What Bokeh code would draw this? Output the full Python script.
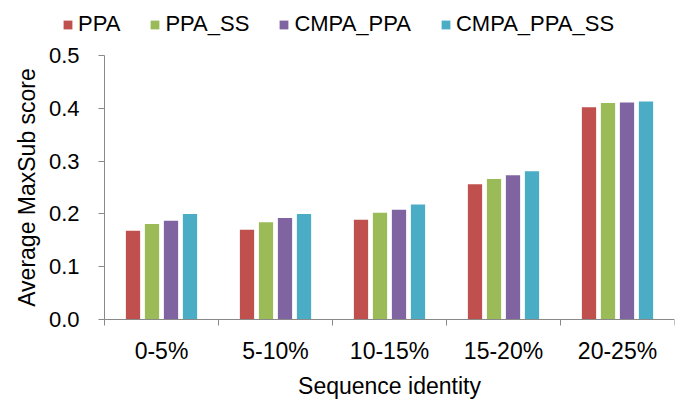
from bokeh.plotting import figure
from bokeh.models import (ColumnDataSource, FixedTicker, Legend, LegendItem,
                          Range1d, NumeralTickFormatter, Label)
from bokeh.transform import dodge
from bokeh.embed import file_html
from bokeh.resources import INLINE

categories = ["0-5%", "5-10%", "10-15%", "15-20%", "20-25%"]
series_names = ["PPA", "PPA_SS", "CMPA_PPA", "CMPA_PPA_SS"]
ppa = [0.168, 0.170, 0.189, 0.256, 0.402]
ppa_ss = [0.181, 0.184, 0.202, 0.266, 0.410]
cmpa_ppa = [0.187, 0.192, 0.208, 0.273, 0.411]
cmpa_ppa_ss = [0.200, 0.200, 0.218, 0.281, 0.413]
y_ticks = [0.0, 0.1, 0.2, 0.3, 0.4, 0.5]
colors = ["#C0504D", "#9BBB59", "#8064A2", "#4BACC6"]
x_title = "Sequence identity"
y_title = "Average MaxSub score"

n = len(categories)
centers = [i + 0.5 for i in range(n)]
bounds = [float(i) for i in range(n + 1)]
y_max = y_ticks[-1]

source = ColumnDataSource(dict(x=centers, PPA=ppa, PPA_SS=ppa_ss,
                               CMPA_PPA=cmpa_ppa, CMPA_PPA_SS=cmpa_ppa_ss))

FONT = "Liberation Sans"
AXIS_COLOR = "#898989"

# layout geometry (pixels): plot body spans x 104..674, y 55..319
W, H = 677, 403
PX_PER_CAT = 114.0
PX_PER_UNIT_Y = 528.0
AXIS_X = 104
AXIS_TOP = 55
AXIS_BOTTOM = 319

p = figure(width=W, height=H, output_backend="svg", toolbar_location=None,
           x_range=Range1d(-AXIS_X / PX_PER_CAT, n),
           y_range=Range1d(-(H - AXIS_BOTTOM) / PX_PER_UNIT_Y,
                           y_max + AXIS_TOP / PX_PER_UNIT_Y),
           min_border_left=0, min_border_right=3, min_border_top=0,
           min_border_bottom=0, outline_line_color=None)
p.grid.visible = False

offsets = [-0.25, -0.0833, 0.0833, 0.25]
items = []
for name, off, col in zip(series_names, offsets, colors):
    r = p.vbar(x=dodge("x", off, range=p.x_range), top=name, bottom=0,
               width=0.125, source=source, fill_color=col, line_color=None)
    items.append(LegendItem(label=name, renderers=[r]))

# x axis, drawn at y = 0
xa = p.xaxis[0]
xa.fixed_location = 0
xa.bounds = (0, n)
xa.ticker = FixedTicker(ticks=centers, minor_ticks=bounds)
xa.major_label_overrides = {c: lab for c, lab in zip(centers, categories)}
xa.major_tick_line_color = None
xa.minor_tick_line_color = AXIS_COLOR
xa.minor_tick_out = 6
xa.minor_tick_in = 0
xa.axis_line_color = AXIS_COLOR
xa.major_label_standoff = 12
xa.major_label_text_font = FONT
xa.major_label_text_font_size = "23px"
xa.major_label_text_color = "#000000"

# x axis title, centred under the categories
p.add_layout(Label(x=n / 2, y=0, y_offset=-66, text=x_title,
                   text_align="center", text_baseline="middle",
                   text_font=FONT, text_font_size="23px",
                   text_color="#000000"))

# y axis, drawn at x = 0 (left edge of the first category)
ya = p.yaxis[0]
ya.fixed_location = 0
ya.bounds = (0, y_max)
ya.ticker = FixedTicker(ticks=y_ticks)
ya.formatter = NumeralTickFormatter(format="0.0")
ya.minor_tick_line_color = None
ya.major_tick_line_color = AXIS_COLOR
ya.major_tick_out = 6
ya.major_tick_in = 0
ya.axis_line_color = AXIS_COLOR
ya.major_label_standoff = 19
ya.major_label_text_font = FONT
ya.major_label_text_font_size = "22px"
ya.major_label_text_color = "#000000"
ya.axis_label = y_title
ya.axis_label_text_font = FONT
ya.axis_label_text_font_size = "23px"
ya.axis_label_text_font_style = "normal"
ya.axis_label_text_color = "#000000"
ya.axis_label_standoff = 6

legend = Legend(items=items, orientation="horizontal",
                location=(62, H - 37),
                padding=0, margin=0, spacing=29, glyph_width=11,
                glyph_height=11, label_standoff=5, label_height=22,
                label_text_font=FONT, label_text_font_size="22px",
                label_text_color="#000000", border_line_color=None,
                background_fill_alpha=0)
p.add_layout(legend)

open("out.html", "w").write(file_html(p, INLINE))
